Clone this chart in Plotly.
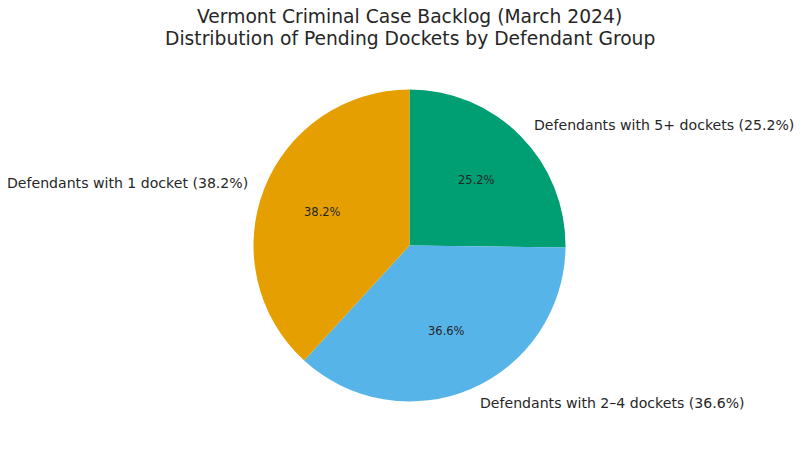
import math
import plotly.graph_objects as go

groups = ["Defendants with 1 docket", "Defendants with 2–4 dockets", "Defendants with 5+ dockets"]
shares = [38.2, 36.6, 25.2]
colors = ["#E69F00", "#56B4E9", "#009E73"]
title_lines = ["Vermont Criminal Case Backlog (March 2024)",
               "Distribution of Pending Dockets by Defendant Group"]

W, H = 800, 449
CX, CY, R = 409.5, 245.5, 156.0  # pixel geometry of the pie
TXT = "#262626"
FONT = "DejaVu Sans"

# matplotlib-like ordering: first slice starts at 12 o'clock, running counterclockwise.
# Plotly's clockwise mode starts at 12 o'clock, so feed the slices reversed.
fig = go.Figure()
fig.add_trace(go.Pie(
    labels=groups[::-1],
    values=shares[::-1],
    marker=dict(colors=colors[::-1], line=dict(width=0)),
    sort=False,
    direction="clockwise",
    rotation=0,
    textinfo="none",
    showlegend=False,
    hoverinfo="label+percent",
    domain=dict(x=[(CX - R) / W, (CX + R) / W], y=[1 - (CY + R) / H, 1 - (CY - R) / H]),
))

total = sum(shares)
start = 90.0
annotations = []
for g, v in zip(groups, shares):
    span = v / total * 360.0
    mid = math.radians(start + span / 2)
    start += span
    lx = CX + 1.1 * R * math.cos(mid)
    ly = CY - 1.1 * R * math.sin(mid)
    annotations.append(dict(
        x=lx / W, y=1 - ly / H, xref="paper", yref="paper",
        text=f"{g} ({v:.1f}%)", showarrow=False,
        xanchor="left" if math.cos(mid) >= 0 else "right", yanchor="middle",
        font=dict(family=FONT, size=14.1, color=TXT),
    ))
    px = CX + 0.6 * R * math.cos(mid)
    py = CY - 0.6 * R * math.sin(mid)
    annotations.append(dict(
        x=px / W, y=1 - py / H, xref="paper", yref="paper",
        text=f"{v:.1f}%", showarrow=False, xanchor="center", yanchor="middle",
        font=dict(family=FONT, size=11.5, color=TXT),
    ))

for line, ty in zip(title_lines, [17.0, 38.0]):
    annotations.append(dict(
        x=CX / W, y=1 - ty / H, xref="paper", yref="paper",
        text=line, showarrow=False, xanchor="center", yanchor="middle",
        font=dict(family=FONT, size=18.7, color=TXT),
    ))

fig.update_layout(
    width=W, height=H,
    margin=dict(l=0, r=0, t=0, b=0),
    paper_bgcolor="white", plot_bgcolor="white",
    annotations=annotations,
)
fig.write_html("out.html",
               config={"displayModeBar": False},
               post_script="document.body.style.margin='0';document.body.style.overflow='hidden';")
